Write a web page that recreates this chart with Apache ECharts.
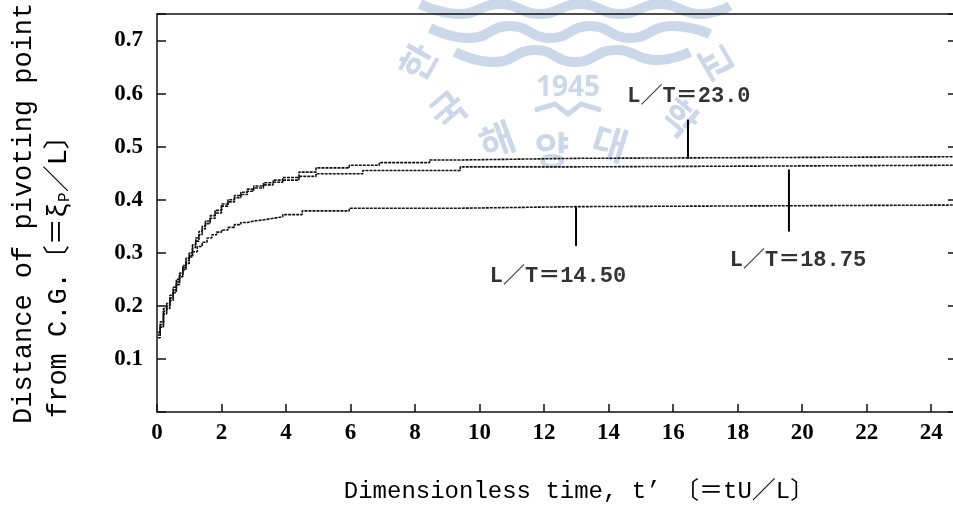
<!DOCTYPE html>
<html>
<head>
<meta charset="utf-8">
<script src="https://cdn.jsdelivr.net/npm/echarts@6/dist/echarts.min.js"></script>
<style>
html,body{margin:0;padding:0;background:#fff;}
#chart{width:953px;height:505px;}
</style>
</head>
<body>
<div id="chart"></div>
<script>
// ---- data ----
const xTicks = [0, 2, 4, 6, 8, 10, 12, 14, 16, 18, 20, 22, 24];
const yTicks = [0.1, 0.2, 0.3, 0.4, 0.5, 0.6, 0.7];

const t23 = [0.03,0.1,0.2,0.3,0.4,0.5,0.6,0.7,0.8,0.9,1.0,1.1,1.2,1.3,1.4,1.5,1.65,1.8,2.0,2.2,2.4,2.6,2.8,3.0,3.3,3.6,3.9,4.4,4.93,5.96,6.89,8.45,9.47,13,17,21,24.8];
const v23 = [0.15,0.17,0.195,0.205,0.22,0.235,0.25,0.262,0.276,0.29,0.30,0.315,0.328,0.34,0.35,0.36,0.37,0.38,0.392,0.40,0.408,0.414,0.42,0.426,0.432,0.437,0.442,0.452,0.46,0.465,0.47,0.475,0.478,0.479,0.48,0.481,0.482];

const t1875 = [0.03,0.1,0.2,0.3,0.4,0.5,0.6,0.7,0.8,0.9,1.0,1.1,1.2,1.3,1.4,1.5,1.65,1.8,2.0,2.2,2.4,2.6,2.8,3.0,3.3,3.6,3.9,4.4,4.93,6.38,9.4,13,17,21,24.8];
const v1875 = [0.145,0.165,0.19,0.2,0.215,0.23,0.245,0.258,0.272,0.285,0.295,0.31,0.322,0.334,0.345,0.355,0.365,0.375,0.388,0.396,0.404,0.41,0.416,0.422,0.428,0.433,0.437,0.444,0.449,0.455,0.462,0.463,0.464,0.465,0.467];

const t1450 = [0.03,0.1,0.2,0.3,0.4,0.5,0.6,0.7,0.8,0.9,1.0,1.1,1.25,1.4,1.55,1.7,1.85,2.0,2.2,2.4,2.6,2.8,3.0,3.3,3.6,3.9,4.5,5.96,9.4,13,17,21,24.8];
const v1450 = [0.14,0.16,0.185,0.195,0.21,0.225,0.24,0.255,0.268,0.28,0.292,0.302,0.312,0.32,0.328,0.334,0.339,0.343,0.348,0.353,0.357,0.36,0.362,0.365,0.368,0.372,0.379,0.384,0.387,0.388,0.389,0.39,0.392];

// annotation labels and leader lines (data coordinates)
const annLabels = ['L／T＝23.0', 'L／T＝14.50', 'L／T＝18.75'];
const annLabelT = [16.49, 12.43, 19.87];
const annLabelV = [0.594, 0.256, 0.286];
const leaderT = [16.46, 12.99, 19.59];
const leaderFrom = [0.477, 0.386, 0.457];
const leaderTo = [0.551, 0.313, 0.340];

const xTitle = 'Dimensionless time, t’ 〔＝tU／L〕';
const yTitle1 = 'Distance of pivoting point';
const yTitle2 = 'from C.G.〔＝ξ{sub|P}／L〕';

// ---- build ----
const zip = (t, v) => t.map((x, i) => [x, v[i]]);
const curveStyle = {color: '#111', width: 1.6, type: [3, 1]};
const curve = (name, t, v) => ({
  name, type: 'line', step: 'end', showSymbol: false, symbol: 'none',
  data: zip(t, v), lineStyle: curveStyle, z: 3, silent: true
});

const series = [
  curve('L/T=23.0', t23, v23),
  curve('L/T=18.75', t1875, v1875),
  curve('L/T=14.50', t1450, v1450)
];
leaderT.forEach((t, i) => {
  series.push({
    type: 'line', showSymbol: false, symbol: 'none', silent: true, z: 4,
    data: [[t, leaderFrom[i]], [t, leaderTo[i]]],
    lineStyle: {color: '#000', width: 2}
  });
});
series.push({
  type: 'scatter', symbolSize: 0, silent: true, z: 5,
  data: annLabels.map((s, i) => ({name: s, value: [annLabelT[i], annLabelV[i]]})),
  label: {
    show: true, position: 'inside', formatter: p => p.name,
    fontFamily: "'Liberation Mono', 'Noto Sans CJK JP', monospace",
    fontSize: 22, fontWeight: 'bold', color: '#000'
  }
});

const isTick = (arr, v) => arr.some(a => Math.abs(a - v) < 1e-6);
const wm = '#cbd8ea';
const wmChars = ['한', '국', '해', '양', '대', '학', '교'];
const wmPos = [[418, 62, -1.05], [448, 110, -0.7], [497, 140, -0.35], [552, 150, 0], [610, 143, 0.3], [680, 118, 0.7], [716, 62, 1.05]];

const graphic = [
  // watermark (faint logo)
  {type: 'polyline', z: -10, silent: true, shape: {smooth: 0.5, points: [[420, 4], [460, 14], [500, 4], [540, 14], [580, 4], [620, 14], [660, 4], [700, 14], [730, 6]]}, style: {stroke: wm, lineWidth: 10, fill: null}},
  {type: 'polyline', z: -10, silent: true, shape: {smooth: 0.5, points: [[430, 28], [470, 38], [510, 26], [550, 38], [590, 26], [630, 38], [670, 26], [710, 34]]}, style: {stroke: wm, lineWidth: 10, fill: null}},
  {type: 'polyline', z: -10, silent: true, shape: {smooth: 0.5, points: [[455, 52], [495, 62], [535, 50], [575, 62], [615, 50], [655, 60], [690, 52]]}, style: {stroke: wm, lineWidth: 10, fill: null}},
  {type: 'text', z: -10, silent: true, x: 568, y: 88, style: {text: '1945', fill: wm, font: 'bold 28px "Noto Sans", sans-serif', align: 'center', verticalAlign: 'middle'}},
  {type: 'polyline', z: -10, silent: true, shape: {points: [[535, 110], [555, 104], [568, 114], [581, 104], [601, 110]]}, style: {stroke: wm, lineWidth: 5, fill: null}},
  // y-axis titles
  {type: 'text', x: 24, y: 424, rotation: Math.PI / 2, style: {
    text: yTitle1, fill: '#000', align: 'left', verticalAlign: 'middle',
    font: '27px "Liberation Mono", monospace'}},
  {type: 'text', x: 59, y: 418, rotation: Math.PI / 2, style: {
    text: yTitle2, fill: '#000', align: 'left', verticalAlign: 'middle',
    font: '27px "Liberation Mono", "Noto Sans CJK JP", monospace',
    rich: {sub: {font: '16px "Liberation Mono", monospace', verticalAlign: 'bottom', padding: [10, 0, 0, 0]}}}},
  // x-axis title
  {type: 'text', x: 579, y: 492, style: {
    text: xTitle, fill: '#000', align: 'center', verticalAlign: 'middle',
    font: '24px "Liberation Mono", "Noto Sans CJK JP", monospace'}}
];
wmChars.forEach((c, i) => {
  graphic.push({type: 'text', z: -10, silent: true, x: wmPos[i][0], y: wmPos[i][1], rotation: -wmPos[i][2],
    style: {text: c, fill: wm, font: 'bold 38px "Noto Sans CJK KR", sans-serif', align: 'center', verticalAlign: 'middle'}});
});

const axisLineStyle = {color: '#111', width: 1.5};
const chart = echarts.init(document.getElementById('chart'), null, {renderer: 'canvas'});
chart.setOption({
  animation: false,
  backgroundColor: '#fff',
  grid: {left: 157, top: 14, right: -4, bottom: 93, containLabel: false, outerBoundsMode: 'none'},
  xAxis: [{
    type: 'value', min: 0, max: 24.8, interval: 2, position: 'bottom',
    axisLine: {show: true, onZero: false, lineStyle: axisLineStyle},
    axisTick: {show: true, inside: true, length: 8, lineStyle: {color: '#111', width: 1.5}},
    splitLine: {show: false},
    axisLabel: {
      margin: 10, color: '#000', fontSize: 23, fontWeight: 'bold',
      fontFamily: "'Liberation Serif', serif",
      formatter: v => isTick(xTicks, v) ? String(v) : ''
    }
  }, {
    type: 'value', min: 0, max: 24.8, position: 'top',
    axisLine: {show: true, onZero: false, lineStyle: axisLineStyle},
    axisTick: {show: false}, axisLabel: {show: false}, splitLine: {show: false}
  }],
  yAxis: [{
    type: 'value', min: 0, max: 0.75, interval: 0.1, position: 'left',
    axisLine: {show: true, onZero: false, lineStyle: axisLineStyle},
    axisTick: {show: true, inside: true, length: 9, lineStyle: {color: '#111', width: 1.5}},
    splitLine: {show: false},
    axisLabel: {
      margin: 14, color: '#000', fontSize: 23, fontWeight: 'bold',
      fontFamily: "'Liberation Serif', serif", padding: [10, 0, 0, 0],
      formatter: v => isTick(yTicks, v) ? v.toFixed(1) : ''
    }
  }, {
    type: 'value', min: 0, max: 0.75, interval: 0.1, position: 'right',
    axisLine: {show: true, onZero: false, lineStyle: axisLineStyle},
    axisTick: {show: true, inside: true, length: 9, lineStyle: {color: '#111', width: 1.5}},
    axisLabel: {show: false}, splitLine: {show: false}
  }],
  graphic: graphic,
  series: series
});
</script>
</body>
</html>
